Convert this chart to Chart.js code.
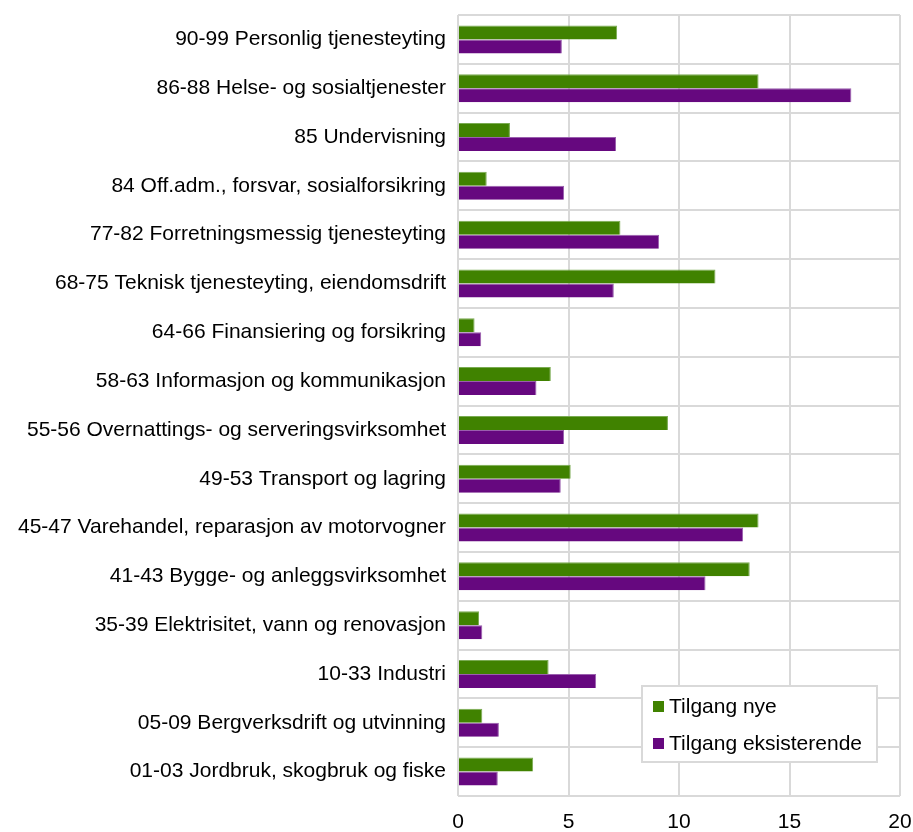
<!DOCTYPE html>
<html>
<head>
<meta charset="utf-8">
<script src="https://cdn.jsdelivr.net/npm/chart.js@4"></script>
<style>
    html, body { margin: 0; padding: 0; background: #ffffff; }
    #wrap { width: 913px; height: 832px; }
</style>
</head>
<body>
<div id="wrap"><canvas id="chart" width="913" height="832"></canvas></div>
<script>
// Næringer (top to bottom as in the figure)
const categories = [
    '90-99 Personlig tjenesteyting',
    '86-88 Helse- og sosialtjenester',
    '85 Undervisning',
    '84 Off.adm., forsvar, sosialforsikring',
    '77-82 Forretningsmessig tjenesteyting',
    '68-75 Teknisk tjenesteyting, eiendomsdrift',
    '64-66 Finansiering og forsikring',
    '58-63 Informasjon og kommunikasjon',
    '55-56 Overnattings- og serveringsvirksomhet',
    '49-53 Transport og lagring',
    '45-47 Varehandel, reparasjon av motorvogner',
    '41-43 Bygge- og anleggsvirksomhet',
    '35-39 Elektrisitet, vann og renovasjon',
    '10-33 Industri',
    '05-09 Bergverksdrift og utvinning',
    '01-03 Jordbruk, skogbruk og fiske'
];

const seriesNames = ['Tilgang nye', 'Tilgang eksisterende'];

const tilgangNye = [7.2, 13.6, 2.35, 1.3, 7.35, 11.65, 0.75, 4.2, 9.5, 5.1, 13.6, 13.2, 0.95, 4.1, 1.1, 3.4];
const tilgangEksisterende = [4.7, 17.8, 7.15, 4.8, 9.1, 7.05, 1.05, 3.55, 4.8, 4.65, 12.9, 11.2, 1.1, 6.25, 1.85, 1.8];

const xTicks = [0, 5, 10, 15, 20];

const GREEN = '#408200';
const PURPLE = '#66087f';
const GRID = '#d9d9d9';
const FONT = '"Liberation Sans", Arial, sans-serif';

// Legend box sits inside the plot, lower right
const insideLegend = {
    id: 'insideLegend',
    afterDraw: function(chart) {
        const ctx = chart.ctx;
        const boxX = 642, boxY = 686, boxW = 235, boxH = 76;
        ctx.save();
        ctx.fillStyle = '#ffffff';
        ctx.fillRect(boxX, boxY, boxW, boxH);
        ctx.strokeStyle = GRID;
        ctx.lineWidth = 2;
        ctx.strokeRect(boxX, boxY, boxW, boxH);

        const colors = [GREEN, PURPLE];
        const rows = [706, 743];
        ctx.font = '21px ' + FONT;
        ctx.textBaseline = 'middle';
        ctx.textAlign = 'left';
        seriesNames.forEach(function(name, i) {
            ctx.fillStyle = colors[i];
            ctx.fillRect(653, rows[i] - 5, 11, 11);
            ctx.fillStyle = '#000000';
            ctx.fillText(name, 669, rows[i] + 1);
        });
        ctx.restore();
    }
};

new Chart(document.getElementById('chart'), {
    type: 'bar',
    data: {
        labels: categories,
        datasets: [{
            label: seriesNames[0],
            data: tilgangNye,
            backgroundColor: GREEN,
            borderColor: '#7aab52',
            borderWidth: { top: 1, right: 1, bottom: 0, left: 0 },
            borderSkipped: 'start',
            categoryPercentage: 0.574,
            barPercentage: 1.0
        }, {
            label: seriesNames[1],
            data: tilgangEksisterende,
            backgroundColor: PURPLE,
            borderColor: '#9a5fae',
            borderWidth: { top: 1, right: 1, bottom: 0, left: 0 },
            borderSkipped: 'start',
            categoryPercentage: 0.574,
            barPercentage: 1.0
        }]
    },
    options: {
        indexAxis: 'y',
        responsive: false,
        animation: false,
        layout: {
            padding: { top: 15, right: 13, bottom: 0, left: 0 }
        },
        plugins: {
            legend: { display: false },
            tooltip: { enabled: false }
        },
        scales: {
            x: {
                min: 0,
                max: 20,
                afterBuildTicks: function(scale) {
                    scale.ticks = xTicks.map(function(v) { return { value: v }; });
                },
                afterFit: function(scale) {
                    scale.height = 36;
                    scale.paddingLeft = 0;
                    scale.paddingRight = 0;
                },
                grid: {
                    color: GRID,
                    lineWidth: 2,
                    drawTicks: false
                },
                border: { display: false },
                ticks: {
                    color: '#000000',
                    padding: 14,
                    font: { family: FONT, size: 21 }
                }
            },
            y: {
                afterFit: function(scale) {
                    scale.width = 458;
                    scale.paddingTop = 0;
                    scale.paddingBottom = 0;
                },
                grid: {
                    color: GRID,
                    lineWidth: 2,
                    drawTicks: false,
                    offset: true
                },
                border: { display: false },
                ticks: {
                    color: '#000000',
                    padding: 12,
                    autoSkip: false,
                    font: { family: FONT, size: 21 }
                }
            }
        }
    },
    plugins: [insideLegend]
});
</script>
</body>
</html>
